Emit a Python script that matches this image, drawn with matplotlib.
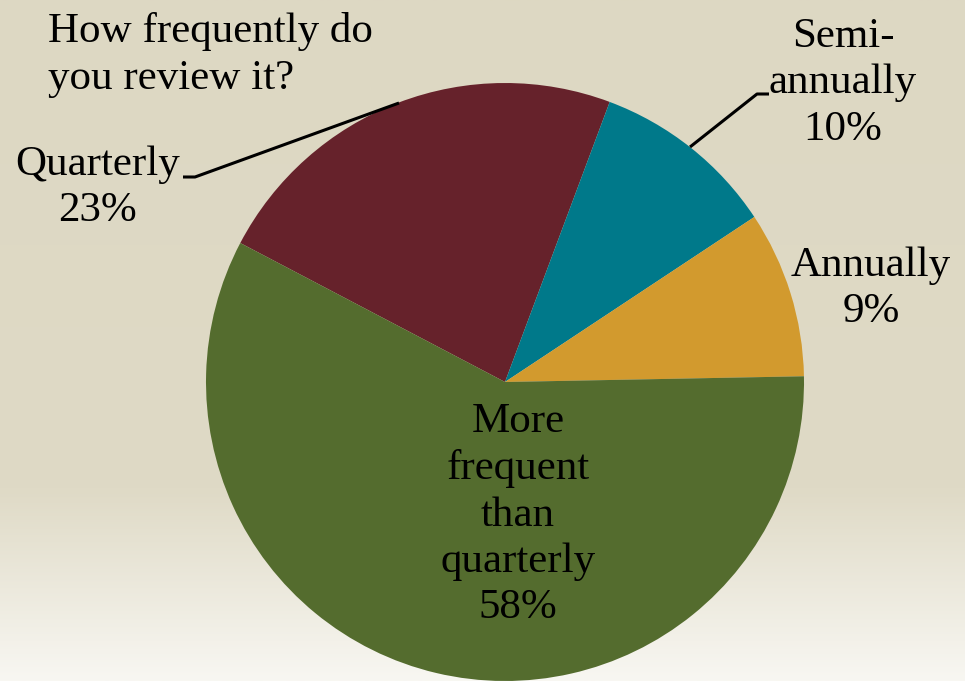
import numpy as np
import matplotlib
matplotlib.use("Agg")
import matplotlib.pyplot as plt
from matplotlib.colors import LinearSegmentedColormap

# ---- data ----
categories = ["Quarterly", "Semi-\nannually", "Annually", "More\nfrequent\nthan\nquarterly"]
values = [23, 10, 9, 58]
colors = ["#66222B", "#00798A", "#D29A2E", "#546C2E"]
title = "How frequently do\nyou review it?"

W, H = 965, 681
fig = plt.figure(figsize=(W / 100, H / 100), dpi=100)
ax = fig.add_axes([0, 0, 1, 1])

# background gradient (top beige -> bottom near white)
cmap = LinearSegmentedColormap.from_list(
    "bg", [(0.0, "#DDD8C3"), (0.72, "#DFDAC6"), (1.0, "#F8F7F2")])
grad = np.linspace(0, 1, 256).reshape(-1, 1)
ax.imshow(grad, extent=[0, W, 0, H], origin="upper", cmap=cmap,
          aspect="auto", zorder=0)

cx, cy, r = 505, H - 382, 299
wedges, _ = ax.pie(values, colors=colors, startangle=152.3, counterclock=False,
                   center=(cx, cy), radius=r, frame=True,
                   wedgeprops=dict(linewidth=0))
for w in wedges:
    w.set_zorder(2)
ax.set_xlim(0, W)
ax.set_ylim(0, H)
ax.set_aspect("equal")
ax.axis("off")

font = "Liberation Serif"
fs = 31
ls = 1.27

def lbl(i, x, y):
    ax.text(x, H - y, f"{categories[i]}\n{values[i]}%", ha="center", va="center",
            fontsize=fs, family=font, linespacing=ls, zorder=5, color="black")

lbl(0, 98, 188)
lbl(1, 843, 83)
lbl(2, 871, 289)
lbl(3, 518, 515)

ax.text(48, H - 55, title, ha="left", va="center", fontsize=fs, family=font,
        linespacing=ls, zorder=5)

# leader lines
ax.plot([183, 195, 399], [H - 177, H - 177, H - 103], color="black", lw=2.2,
        zorder=4, solid_capstyle="butt")
ax.plot([769, 757, 690], [H - 94, H - 94, H - 147], color="black", lw=2.2,
        zorder=4, solid_capstyle="butt")

fig.savefig("out.png", dpi=100)
